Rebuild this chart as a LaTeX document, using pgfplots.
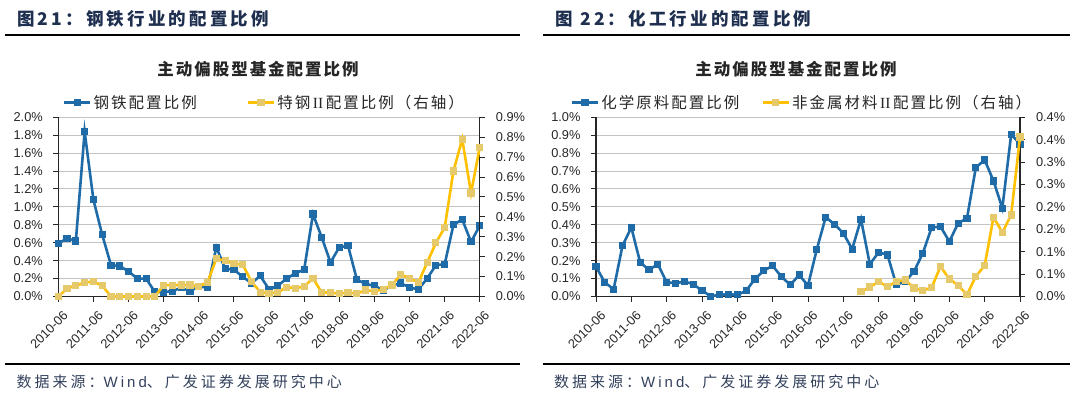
\documentclass[border=0pt]{standalone}
\usepackage{fontspec}
\setmainfont{Liberation Sans}
\newfontfamily\cjk{Noto Sans CJK SC}
\newfontfamily\hfontf[LetterSpace=18]{Noto Sans CJK SC}
\newfontfamily\tfontf[LetterSpace=12]{Noto Sans CJK SC}
\newfontfamily\lfontf[LetterSpace=13]{Noto Sans CJK SC}
\newfontfamily\ffontf[LetterSpace=20]{Noto Sans CJK SC}
\newfontfamily\flatin[LetterSpace=20]{Liberation Sans}
\newfontfamily\serifII{Liberation Serif}
\usepackage{pgfplots}
\pgfplotsset{compat=1.18}
\definecolor{bl}{HTML}{1F6BA8}
\definecolor{yl}{HTML}{FFC000}
\definecolor{ym}{HTML}{E6C96A}
\definecolor{hd}{HTML}{1F2F4F}
\definecolor{ft}{HTML}{33415C}
\definecolor{gr}{HTML}{C4C4C4}
\definecolor{tk}{HTML}{262626}
\newcommand{\hfont}{\hfontf\bfseries\fontsize{17.5}{20}\selectfont}
\newcommand{\tfont}{\tfontf\bfseries\fontsize{16.5}{19}\selectfont}
\newcommand{\lfont}{\lfontf\fontsize{15.5}{18}\selectfont}
\newcommand{\ffont}{\ffontf\fontsize{15}{17}\selectfont}
\newcommand{\tkfont}{\fontsize{12.8}{14}\selectfont}
\newcommand{\RII}{{\serifII\fontsize{15.5}{18}\selectfont\,II\,}}
\pgfplotsset{
  bser/.style={color=bl, line width=2.6pt, mark=square*, mark size=3.1pt, mark options={fill=bl, draw=bl, line width=0pt}},
  yser/.style={color=yl, line width=2.6pt, mark=square*, mark size=3.1pt, mark options={fill=ym, draw=ym, line width=0pt}},
  common/.style={
    scale only axis, height=179.2pt, xmin=0, xmax=48, clip=false,
    /pgf/number format/assume math mode=true,
    tick align=outside, major tick length=5pt,
    tick style={black!85, line width=1pt},
    axis line style={black!85, line width=1.1pt},
    tick label style={font=\tkfont, text=tk},
  },
  mainax/.style={
    common,
    axis x line*=bottom, axis y line*=left,
    xtick={0,4,...,48},
    xticklabels={2010-06,2011-06,2012-06,2013-06,2014-06,2015-06,2016-06,2017-06,2018-06,2019-06,2020-06,2021-06,2022-06},
    xticklabel style={font=\tkfont, text=tk, xshift=7.5pt, yshift=-12pt, rotate=45, anchor=east, inner sep=0pt},
    yticklabel style={font=\tkfont, text=tk, xshift=-7pt},
    ymajorgrids, grid style={gr, line width=1pt},
    legend columns=2,
    legend cell align=left,
    legend style={draw=none, fill=none, inner sep=0pt, font=\lfont, text=tk},
    legend image code/.code={\draw[mark repeat=2, mark phase=2, ##1] plot coordinates {(0pt,0pt) (13pt,0pt) (26pt,0pt)};},
  },
  secax/.style={
    common,
    axis x line=none, axis y line*=right,
    yticklabel style={font=\tkfont, text=tk, xshift=7.5pt},
  },
}
\begin{document}
\begin{tikzpicture}
\path[use as bounding box] (0pt,0pt) rectangle (1080pt,-393pt);
% ---------- headers, rules, footers
\node[anchor=west, text=hd, inner sep=0pt] at (17pt,-19pt) {\hfont 图21：钢铁行业的配置比例};
\node[anchor=west, text=hd, inner sep=0pt] at (555.5pt,-19pt) {\hfont 图 22：化工行业的配置比例};
\draw[black, line width=1.2pt] (5pt,-35pt) -- (520pt,-35pt);
\draw[black, line width=1.2pt] (543pt,-35pt) -- (1070pt,-35pt);
\draw[black, line width=1.2pt] (5pt,-364pt) -- (520pt,-364pt);
\draw[black, line width=1.2pt] (543pt,-364pt) -- (1070pt,-364pt);
\node[anchor=west, text=ft, inner sep=0pt] at (16.5pt,-382pt) {\ffont 数据来源：{\flatin\fontsize{15}{17}\selectfont Wind}、广发证券发展研究中心};
\node[anchor=west, text=ft, inner sep=0pt] at (554pt,-382pt) {\ffont 数据来源：{\flatin\fontsize{15}{17}\selectfont Wind}、广发证券发展研究中心};
\node[text=tk, inner sep=0pt] at (258pt,-69pt) {\tfont 主动偏股型基金配置比例};
\node[text=tk, inner sep=0pt] at (796pt,-69pt) {\tfont 主动偏股型基金配置比例};

% ================= LEFT PANEL =================
\begin{axis}[mainax, at={(58.3pt,-296.5pt)}, anchor=south west, width=421.5pt,
  ymin=0, ymax=2.0, ytick={0,0.2,0.4,0.6,0.8,1.0,1.2,1.4,1.6,1.8,2.0},
  yticklabels={0.0\%,0.2\%,0.4\%,0.6\%,0.8\%,1.0\%,1.2\%,1.4\%,1.6\%,1.8\%,2.0\%},
  legend style={at={(0.5,1)}, anchor=south, xshift=-4.5pt, yshift=5pt,
    /tikz/every even column/.append style={column sep=48pt}}]
\addplot[bser] coordinates {(0,0.59)(1,0.65)(2,0.62)(3,1.84)(4,1.08)(5,0.69)(6,0.35)(7,0.34)(8,0.28)(9,0.20)(10,0.20)(11,0.05)(12,0.05)(13,0.06)(14,0.10)(15,0.06)(16,0.11)(17,0.10)(18,0.55)(19,0.31)(20,0.30)(21,0.22)(22,0.15)(23,0.23)(24,0.08)(25,0.12)(26,0.20)(27,0.26)(28,0.30)(29,0.92)(30,0.66)(31,0.38)(32,0.55)(33,0.565)(34,0.19)(35,0.14)(36,0.12)(37,0.07)(38,0.12)(39,0.15)(40,0.10)(41,0.08)(42,0.20)(43,0.35)(44,0.36)(45,0.80)(46,0.86)(47,0.61)(48,0.79)};
\addlegendentry{钢铁配置比例}
\addlegendimage{yser}
\addlegendentry{特钢\RII 配置比例（右轴）}
\end{axis}
\begin{axis}[secax, at={(58.3pt,-296.5pt)}, anchor=south west, width=421.5pt,
  ymin=0, ymax=0.9, ytick={0,0.1,0.2,0.3,0.4,0.5,0.6,0.7,0.8,0.9},
  yticklabels={0.0\%,0.1\%,0.2\%,0.3\%,0.4\%,0.5\%,0.6\%,0.7\%,0.8\%,0.9\%}]
\addplot[yser] coordinates {(0,0)(1,0.04)(2,0.055)(3,0.07)(4,0.075)(5,0.055)(6,0)(7,0)(8,0)(9,0)(10,0)(11,0)(12,0.057)(13,0.057)(14,0.058)(15,0.058)(16,0.05)(17,0.072)(18,0.19)(19,0.18)(20,0.165)(21,0.16)(22,0.075)(23,0.022)(24,0.017)(25,0.02)(26,0.047)(27,0.042)(28,0.05)(29,0.092)(30,0.02)(31,0.02)(32,0.014)(33,0.02)(34,0.014)(35,0.033)(36,0.025)(37,0.037)(38,0.058)(39,0.11)(40,0.092)(41,0.07)(42,0.17)(43,0.27)(44,0.346)(45,0.63)(46,0.79)(47,0.52)(48,0.75)};
\end{axis}

% ================= RIGHT PANEL =================
\begin{axis}[mainax, at={(596pt,-296.5pt)}, anchor=south west, width=424pt,
  ymin=0, ymax=1.0, ytick={0,0.1,0.2,0.3,0.4,0.5,0.6,0.7,0.8,0.9,1.0},
  yticklabels={0.0\%,0.1\%,0.2\%,0.3\%,0.4\%,0.5\%,0.6\%,0.7\%,0.8\%,0.9\%,1.0\%},
  legend style={at={(0.5,1)}, anchor=south, xshift=-6pt, yshift=5pt,
    /tikz/every even column/.append style={column sep=20pt}}]
\addplot[bser] coordinates {(0,0.167)(1,0.078)(2,0.041)(3,0.284)(4,0.385)(5,0.19)(6,0.149)(7,0.18)(8,0.08)(9,0.074)(10,0.084)(11,0.069)(12,0.033)(13,0.002)(14,0.009)(15,0.013)(16,0.009)(17,0.032)(18,0.098)(19,0.145)(20,0.171)(21,0.11)(22,0.065)(23,0.12)(24,0.061)(25,0.264)(26,0.442)(27,0.403)(28,0.353)(29,0.264)(30,0.431)(31,0.18)(32,0.247)(33,0.232)(34,0.065)(35,0.084)(36,0.139)(37,0.242)(38,0.385)(39,0.39)(40,0.307)(41,0.409)(42,0.437)(43,0.72)(44,0.762)(45,0.645)(46,0.493)(47,0.905)(48,0.851)};
\addlegendentry{化学原料配置比例}
\addlegendimage{yser}
\addlegendentry{非金属材料\RII 配置比例（右轴）}
\end{axis}
\begin{axis}[secax, at={(596pt,-296.5pt)}, anchor=south west, width=424pt,
  ymin=0, ymax=0.4, ytick={0,0.05,0.1,0.15,0.2,0.25,0.3,0.35,0.4},
  yticklabels={0.0\%,0.1\%,0.1\%,0.2\%,0.2\%,0.3\%,0.3\%,0.4\%,0.4\%}]
\addplot[yser] coordinates {(30,0.011)(31,0.021)(32,0.033)(33,0.022)(34,0.033)(35,0.037)(36,0.019)(37,0.013)(38,0.020)(39,0.067)(40,0.039)(41,0.025)(42,0.004)(43,0.045)(44,0.069)(45,0.177)(46,0.143)(47,0.182)(48,0.356)};
\end{axis}
\end{tikzpicture}
\end{document}
